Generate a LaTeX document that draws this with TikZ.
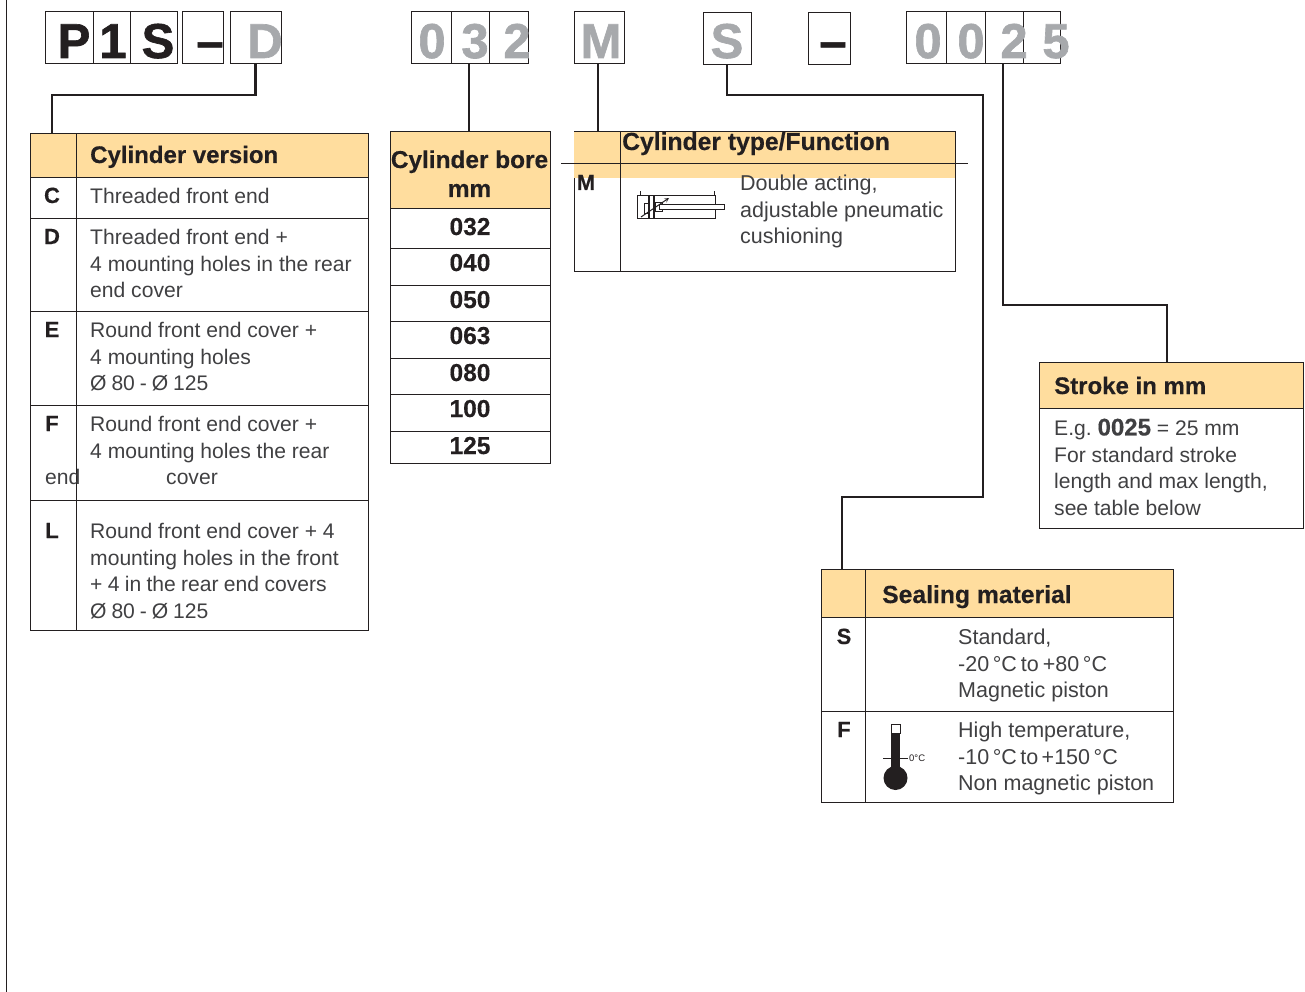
\documentclass[tikz,border=0pt]{standalone}
\usepackage{fontspec}
\setmainfont{Liberation Sans}
\newfontfamily\heavyfont[FakeBold=1.3]{Liberation Sans Bold}
\newfontfamily\semifont[FakeBold=0.4]{Liberation Sans Bold}
\definecolor{headfill}{HTML}{FFDD9E}
\definecolor{inkdark}{HTML}{231F20}
\definecolor{inklight}{HTML}{404042}
\definecolor{codegrey}{HTML}{A7A9AC}
\tikzset{
  codebox/.style={draw=inkdark,line width=1pt,rectangle,inner sep=0pt,outer sep=0pt,anchor=north west,minimum height=52},
  codeblack/.style={anchor=base,inner sep=0pt,text=inkdark,font=\fontsize{49}{49}\heavyfont},
  codegray/.style={codeblack,text=codegrey},
  cell/.style={draw=inkdark,line width=0.9pt,rectangle,inner sep=0pt,outer sep=0pt,anchor=north west},
  headcell/.style={cell,fill=headfill},
  headtext/.style={anchor=base west,inner sep=0pt,text=inkdark,font=\fontsize{24}{24}\semifont},
  headwide/.style={headtext,font=\fontsize{24.7}{24.7}\semifont},
  keytext/.style={anchor=base,inner sep=0pt,text=inkdark,font=\fontsize{22}{22}\semifont},
  keydigit/.style={keytext,font=\fontsize{24.5}{24.5}\semifont},
  bodytext/.style={anchor=north west,inner sep=0pt,align=left,text=inklight,font=\frenchspacing\fontsize{21.1}{26.6}\selectfont},
  bodywide/.style={bodytext,font=\frenchspacing\fontsize{21.5}{26.6}\selectfont},
  leader/.style={draw=inkdark,line width=2.7pt},
}
\begin{document}
\begin{tikzpicture}[x=1pt,y=-1pt]
      \useasboundingbox (0,0) rectangle (1305,992);
      \coordinate (margintop) at (6,0);
      \coordinate (marginbottom) at (6,992);
      \draw[inkdark,line width=1pt] (margintop) to (marginbottom);
      % code boxes
      \draw
        (45,12) node[codebox,minimum width=48] (boxP){}
        (93,12) node[codebox,minimum width=37] (box1){}
        (130,12) node[codebox,minimum width=47] (boxS){}
        (182,12) node[codebox,minimum width=41] (boxdash){}
        (230,12) node[codebox,minimum width=51] (boxD){}
        (411,12) node[codebox,minimum width=40] (boxbore0){}
        (451,12) node[codebox,minimum width=38] (boxbore3){}
        (489,12) node[codebox,minimum width=39] (boxbore2){}
        (574,12) node[codebox,minimum width=50] (boxM){}
        (703,13) node[codebox,minimum width=48] (boxseal){}
        (808,13) node[codebox,minimum width=42] (boxdashb){}
        (906,12) node[codebox,minimum width=40] (boxstroke0){}
        (946,12) node[codebox,minimum width=39] (boxstrokeb){}
        (985,12) node[codebox,minimum width=38] (boxstroke2){}
        (1023,12) node[codebox,minimum width=37] (boxstroke5){};
      \draw
        (74,58) node[codeblack] (charP){P}
        (113,58) node[codeblack] (char1){1}
        (158,58) node[codeblack] (charS){S}
        (210,58) node[codeblack] (chardash){–}
        (265,58) node[codegray] (charD){D}
        (432,58) node[codegray] (charbore0){0}
        (475,58) node[codegray] (charbore3){3}
        (517,58) node[codegray] (charbore2){2}
        (601,58) node[codegray] (charM){M}
        (727,58) node[codegray] (charseal){S}
        (833,58) node[codeblack] (chardashb){–}
        (928,58) node[codegray] (charstroke0){0}
        (971,58) node[codegray] (charstrokeb){0}
        (1014,58) node[codegray] (charstroke2){2}
        (1056,58) node[codegray] (charstroke5){5};
      % cylinder version
      \draw
        (30,133) node[headcell,minimum width=46,minimum height=44] (headver){}
        (76,133) node[headcell,minimum width=292,minimum height=44] (headvertext){}
        (30,177) node[cell,minimum width=46,minimum height=41] (keyC){}
        (76,177) node[cell,minimum width=292,minimum height=41] (rowC){}
        (30,218) node[cell,minimum width=46,minimum height=93] (keyDrow){}
        (76,218) node[cell,minimum width=292,minimum height=93] (rowD){}
        (30,311) node[cell,minimum width=46,minimum height=94] (keyE){}
        (76,311) node[cell,minimum width=292,minimum height=94] (rowE){}
        (30,405) node[cell,minimum width=46,minimum height=95] (keyF){}
        (76,405) node[cell,minimum width=292,minimum height=95] (rowF){}
        (30,500) node[cell,minimum width=46,minimum height=130] (keyL){}
        (76,500) node[cell,minimum width=292,minimum height=130] (rowL){};
      \draw
        (90,163) node[headtext] (vertitle){Cylinder version}
        (52,203) node[keytext] (labC){C}
        (52,244) node[keytext] (labD){D}
        (52,337) node[keytext] (labE){E}
        (52,431) node[keytext] (labF){F}
        (52,538) node[keytext] (labL){L}
        (90,188) node[bodytext] (txtC){Threaded front end}
        (90,229) node[bodytext] (txtD){Threaded front end +\\4 mounting holes in the rear\\end cover}
        (90,322) node[bodytext] (txtE){Round front end cover +\\4 mounting holes\\{\spaceskip=4.9pt Ø 80 - Ø 125}}
        (90,416) node[bodytext] (txtF){Round front end cover +\\4 mounting holes the rear}
        (45,484) node[bodytext,anchor=base west] (txtFend){end}
        (166,484) node[bodytext,anchor=base west] (txtFcover){cover}
        (90,523) node[bodytext] (txtL){Round front end cover + 4\\mounting holes in the front\\{\spaceskip=5.3pt + 4 in the rear end covers}\\{\spaceskip=4.9pt Ø 80 - Ø 125}};
      % cylinder bore
      \draw
        (390,131) node[headcell,minimum width=160,minimum height=77] (headbore){}
        (390,208) node[cell,minimum width=160,minimum height=40] (bore032){}
        (390,248) node[cell,minimum width=160,minimum height=37] (bore040){}
        (390,285) node[cell,minimum width=160,minimum height=36] (bore050){}
        (390,321) node[cell,minimum width=160,minimum height=37] (bore063){}
        (390,358) node[cell,minimum width=160,minimum height=36] (bore080){}
        (390,394) node[cell,minimum width=160,minimum height=37] (bore100){}
        (390,431) node[cell,minimum width=160,minimum height=32] (bore125){};
      \draw
        (469.5,168) node[headtext,anchor=base,font=\fontsize{24.4}{24.4}\semifont] (boretitle){Cylinder bore}
        (469.5,197) node[headtext,anchor=base,font=\fontsize{24.4}{24.4}\semifont] (boreunit){mm}
        (470,235) node[keydigit] (lab032){032}
        (470,271) node[keydigit] (lab040){040}
        (470,308) node[keydigit] (lab050){050}
        (470,344) node[keydigit] (lab063){063}
        (470,381) node[keydigit] (lab080){080}
        (470,417) node[keydigit] (lab100){100}
        (470,454) node[keydigit] (lab125){125};
      % cylinder type
      \draw
        (574,131) node[cell,minimum width=46,minimum height=140] (keytype){}
        (620,131) node[cell,minimum width=335,minimum height=140] (rowtype){}
        (574,131) node[anchor=north west,inner sep=0pt,outer sep=0pt,fill=headfill,minimum width=381,minimum height=47] (headtype){};
      \coordinate (typeruleL) at (561,163);
      \coordinate (typeruleR) at (968,163);
      \coordinate (typecolT) at (620,131);
      \coordinate (typecolB) at (620,178);
      \coordinate (typeboxTL) at (574,131);
      \coordinate (typeboxTR) at (955,131);
      \draw[inkdark,line width=0.9pt] (typeboxTL) to (typeboxTR);
      \draw[inkdark,line width=0.9pt] (typecolT) to (typecolB);
      \draw[inkdark,line width=0.8pt] (typeruleL) to (typeruleR);
      \draw
        (622,150) node[headwide] (typetitle){Cylinder type/Function}
        (586,190) node[keytext] (labM){M}
        (740,175) node[bodywide] (txtM){Double acting,\\adjustable pneumatic\\cushioning};
      % cylinder symbol
      \begin{scope}[inkdark,line width=1pt]
        \draw (637,196) rectangle (715,219);
        \draw[line width=0.7pt] (640,196) to (640,191);
        \draw[line width=0.7pt] (714,196) to (714,191);
        \draw[line width=2pt] (649,196) to (649,219);
        \draw[line width=2pt] (654,196) to (654,219);
        \draw (644,204) rectangle (648,214);
        \draw (655,203) rectangle (662,212);
        \draw[fill=white] (659,205) rectangle (724,210);
        \draw[-stealth] (641,217) to (669,198);
      \end{scope}
      % sealing material
      \draw
        (821,569) node[headcell,minimum width=44,minimum height=48] (headseal){}
        (865,569) node[headcell,minimum width=308,minimum height=48] (headsealtext){}
        (821,617) node[cell,minimum width=44,minimum height=94] (keyS){}
        (865,617) node[cell,minimum width=308,minimum height=94] (rowS){}
        (821,711) node[cell,minimum width=44,minimum height=91] (keyFseal){}
        (865,711) node[cell,minimum width=308,minimum height=91] (rowFseal){};
      \draw
        (882,603) node[headwide] (sealtitle){Sealing material}
        (844,644) node[keytext] (labS){S}
        (844,737) node[keytext] (labFseal){F}
        (958,629) node[bodywide] (txtS){Standard,\\{\spaceskip=4pt -20\,°C to +80\,°C}\\Magnetic piston}
        (958,722) node[bodywide] (txtFseal){High temperature,\\{\spaceskip=3.4pt -10\,°C to +150\,°C}\\Non magnetic piston}
        (909,758) node[anchor=west,inner sep=0pt,text=inkdark,font=\fontsize{9.5}{9.5}\selectfont] (zerolab){0°C};
      % thermometer
      \begin{scope}[inkdark]
        \draw[line width=0.8pt] (883,758) to (908,758);
        \draw[line width=0.8pt,fill=white] (891,724) rectangle (900,733);
        \fill (891,733) rectangle (900,775);
        \fill (895.5,778) circle (12);
      \end{scope}
      % stroke
      \draw
        (1039,362) node[headcell,minimum width=264,minimum height=46] (headstroke){}
        (1039,408) node[cell,minimum width=264,minimum height=120] (rowstroke){};
      \coordinate (strokeentry) at (1167,362);
      \draw
        (1054,394) node[headtext] (stroketitle){Stroke in mm}
        (1054,418.5) node[bodytext] (txtstroke){E.g. {\fontsize{24}{26.6}\semifont 0025} = 25 mm\\For standard stroke\\length and max length,\\see table below};
      % leaders
      \coordinate (bendD) at (150,95);
      \coordinate (bendsealA) at (850,95);
      \coordinate (bendsealB) at (983,300);
      \coordinate (bendsealC) at (900,497);
      \coordinate (bendstroke) at (1100,305);
      \begin{scope}[leader]
        \draw (boxD.south) |- (bendD) -| ([xshift=-1pt]headver.north);
        \draw ([xshift=-1pt]boxbore3.south) to ([xshift=-1pt]boxbore3.south |- headbore.north);
        \draw ([xshift=-1pt]boxM.south) to ([xshift=-1pt]boxM.south |- headtype.north);
        \draw (boxseal.south) |- (bendsealA) -| (bendsealB) |- (bendsealC) -| ([xshift=-1pt]headseal.north);
        \draw ([xshift=-1pt]boxstroke2.south) |- (bendstroke) -| (strokeentry);
      \end{scope}
    \end{tikzpicture}
\end{document}
